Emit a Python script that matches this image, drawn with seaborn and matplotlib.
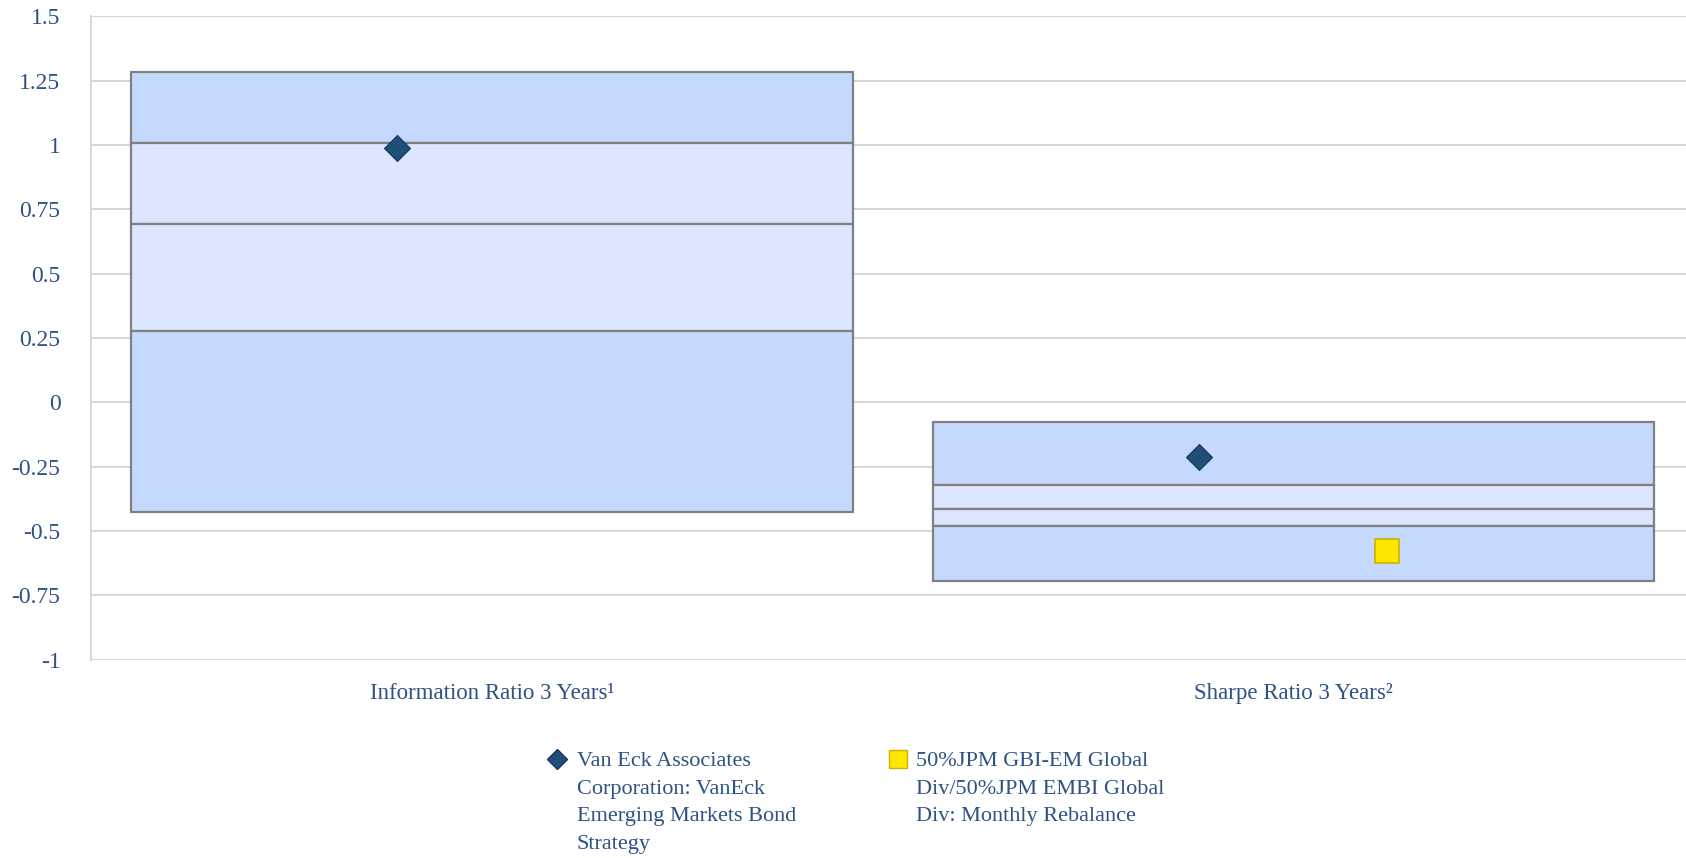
import matplotlib
matplotlib.use("Agg")
import matplotlib.pyplot as plt
import seaborn as sns
import pandas as pd
from matplotlib.lines import Line2D

# data
categories = ["Information Ratio 3 Years\u00b9", "Sharpe Ratio 3 Years\u00b2"]
band_edges = [
    [1.283, 1.008, 0.695, 0.278, -0.424],   # information ratio: top .. bottom
    [-0.078, -0.320, -0.416, -0.482, -0.695],  # sharpe ratio
]
band_colors = ["#C5D8FD", "#DCE6FE", "#DCE6FE", "#C5D8FD"]
fund_name = "Van Eck Associates\nCorporation: VanEck\nEmerging Markets Bond\nStrategy"
bench_name = "50%JPM GBI-EM Global\nDiv/50%JPM EMBI Global\nDiv: Monthly Rebalance"
fund_values = [0.987, -0.211]
bench_values = [None, -0.578]
y_ticks = [1.5, 1.25, 1, 0.75, 0.5, 0.25, 0, -0.25, -0.5, -0.75, -1]

text_color = "#2E5283"
sns.set_theme(style="white")
plt.rcParams["font.family"] = ["Liberation Serif", "DejaVu Serif"]

fig = plt.figure(figsize=(16.86, 8.58), dpi=100)
ax = fig.add_axes([0.054, 0.231, 0.951, 0.75])

# stacked quartile bands for each category
for i, edges in enumerate(band_edges):
    for j in range(len(edges) - 1):
        ax.bar(i, edges[j] - edges[j + 1], bottom=edges[j + 1], width=0.9,
               color=band_colors[j], edgecolor="#808080", linewidth=1.6, zorder=2)

rows = []
for i, cat in enumerate(categories):
    rows.append({"x": i - 0.118, "y": fund_values[i], "series": "fund"})
    if bench_values[i] is not None:
        rows.append({"x": i + 0.117, "y": bench_values[i], "series": "bench"})
df = pd.DataFrame(rows)

sns.scatterplot(data=df[df.series == "fund"], x="x", y="y", marker="D", s=175,
                color="#1F4E79", edgecolor="#17375E", linewidth=0.8, ax=ax, zorder=4)
sns.scatterplot(data=df[df.series == "bench"], x="x", y="y", marker="s", s=300,
                color="#FFE600", edgecolor="#C8B400", linewidth=1.2, ax=ax, zorder=4)

ax.set_xlim(-0.5, 1.49)
ax.set_ylim(-1, 1.5)
ax.set_yticks(y_ticks)
ax.set_yticklabels([f"{v:g}" for v in y_ticks])
ax.yaxis.grid(True, color="#D6D6D6", linewidth=1.4, zorder=0)
ax.set_axisbelow(True)
ax.set_xticks([0, 1])
ax.set_xticklabels(categories)
ax.set_xticks([-0.5, 0.5, 1.5], minor=True)
ax.tick_params(axis="x", which="major", length=0, pad=17, labelsize=16.5, labelcolor=text_color)
ax.tick_params(axis="x", which="minor", length=12, width=1, color="#B4C7E7", direction="out")
ax.tick_params(axis="y", length=0, pad=22, labelsize=17, labelcolor=text_color)
ax.set_xlabel("")
ax.set_ylabel("")
for side in ["top", "right", "bottom"]:
    ax.spines[side].set_visible(False)
ax.spines["left"].set_color("#D6D6D6")
ax.spines["left"].set_linewidth(1.4)

# legend drawn by hand to keep the markers beside the first line
fig.add_artist(Line2D([557 / 1686], [1 - 759 / 858], marker="D", markersize=10,
                      color="#1F4E79", markeredgecolor="#17375E", linestyle="none"))
fig.text(577 / 1686, 1 - 752 / 858, fund_name, fontsize=16, color=text_color,
         va="top", ha="left", linespacing=1.62)
fig.add_artist(Line2D([898 / 1686], [1 - 759 / 858], marker="s", markersize=13,
                      color="#FFE600", markeredgecolor="#C8B400", linestyle="none"))
fig.text(916 / 1686, 1 - 752 / 858, bench_name, fontsize=16, color=text_color,
         va="top", ha="left", linespacing=1.62)

fig.savefig("out.png", dpi=100)
